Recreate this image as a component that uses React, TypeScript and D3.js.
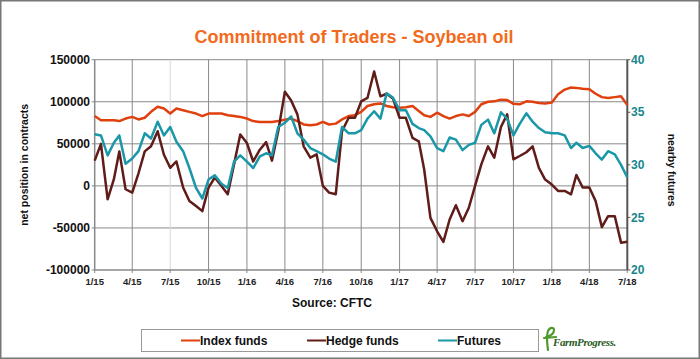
import * as d3 from "d3";

// semi-monthly observations, Jan 2015 .. Jul 2018
const indexFunds = [
  83000, 78000, 78000, 78000, 77000, 80000, 82000, 79000, 81000, 88000,
  94000, 92000, 86000, 92000, 90000, 88000, 86000, 83000, 86000, 86000,
  86000, 84000, 83000, 82000, 80000, 77000, 76000, 76000, 76000, 77000,
  78500, 80000, 77000, 73000, 72000, 73000, 76000, 73000, 74000, 79000,
  83000, 84000, 88000, 95000, 97000, 98000, 95000, 93500, 93000, 93500,
  95000, 89000, 84000, 82000, 87000, 83000, 80000, 83000, 85000, 83000,
  88000, 97000, 100000, 100500, 102500, 102000, 97500, 97000, 100500, 100000,
  98500, 98000, 99000, 109000, 114500, 117000, 116500, 115500, 115000, 109500,
  105500, 104500, 105500, 106500, 96000,
];

const hedgeFunds = [
  30000, 50000, -16000, 8000, 41000, -4000, -8000, 15000, 41000, 47000,
  65000, 37000, 21500, 29000, -2000, -18000, -24000, -30000, -2000, 10000,
  0, -10000, 25500, 61000, 51000, 29000, 43000, 52000, 30000, 65000,
  112000, 101500, 85000, 47000, 33500, 37500, 0, -8000, -10000, 65000,
  81000, 81000, 100500, 104500, 136000, 106500, 109500, 104000, 81000, 81000,
  57000, 53000, 19500, -38000, -54000, -66500, -40000, -23000, -42000, -26000,
  0, 25500, 47000, 33500, 70000, 85000, 31500, 35500, 40000, 47000,
  21500, 7500, 1500, -6000, -6000, -10000, 13000, -2000, -2000, -18000,
  -49000, -36000, -36000, -67500, -66500,
];

const futures = [
  32.9, 32.8, 30.9, 32.1, 32.8, 30.1, 30.6, 31.3, 33.0, 32.5,
  34.1, 32.8, 33.6, 32.2, 31.3, 29.7, 27.8, 26.8, 28.6, 29.0,
  28.2, 27.8, 30.3, 30.9, 30.3, 29.7, 30.8, 31.1, 30.9, 33.6,
  34.0, 34.6, 33.0, 32.4, 31.6, 31.3, 31.0, 30.6, 30.3, 33.6,
  33.0, 33.0, 33.3, 34.4, 35.1, 34.4, 36.8, 36.4, 35.2, 35.2,
  33.9, 33.5, 33.3, 32.7, 31.6, 31.3, 32.6, 32.4, 31.4, 31.9,
  32.1, 33.8, 34.3, 33.0, 35.0, 34.4, 32.8, 33.9, 34.9, 34.1,
  33.5, 33.1, 33.0, 33.0, 32.8, 31.6, 32.1, 31.6, 31.8, 31.1,
  30.5, 31.3, 31.0, 30.0, 28.8,
];

const xTickLabels = [
  "1/15", "4/15", "7/15", "10/15", "1/16", "4/16", "7/16", "10/16",
  "1/17", "4/17", "7/17", "10/17", "1/18", "4/18", "7/18",
];
const leftTicks = [-100000, -50000, 0, 50000, 100000, 150000];
const rightTicks = [20, 25, 30, 35, 40];

const seriesNames = ["Index funds", "Hedge funds", "Futures"];
const colors = ["#e0400e", "#5f1c19", "#1a97a8"];

const W = 700;
const H = 359;
const FONT = "Liberation Sans, Arial, sans-serif";

export default function App() {
  const start = new Date(2015, 0, 1);
  const end = new Date(2018, 6, 1);
  const dates: Date[] = [];
  d3.timeMonth.range(start, end).forEach((m) => {
    dates.push(m);
    dates.push(d3.timeDay.offset(m, 15));
  });
  dates.push(end);

  const x = d3.scaleTime().domain([start, end]).range([94.7, 627.3]);
  const yL = d3.scaleLinear().domain([-100000, 150000]).range([270, 59.7]);
  const yR = d3.scaleLinear().domain([20, 40]).range([270, 59.7]);
  const quarters = d3.timeMonth.every(3)!.range(start, d3.timeDay.offset(end, 1));

  const lineL = d3
    .line<number>()
    .x((_, i) => x(dates[i]))
    .y((d) => yL(d));
  const lineR = d3
    .line<number>()
    .x((_, i) => x(dates[i]))
    .y((d) => yR(d));

  const paths = [lineL(indexFunds), lineL(hedgeFunds), lineR(futures)];
  const legendX = [181, 307, 438];

  return (
    <svg
      width={W}
      height={H}
      style={{ position: "absolute", left: 0, top: 0, background: "#fff" }}
      fontFamily={FONT}
    >
      <rect x={0.75} y={0.75} width={W - 1.5} height={H - 1.5} fill="#fff" stroke="#777" strokeWidth={1.5} />

      <text x={354} y={43} textAnchor="middle" fontSize={18} fontWeight="bold" fill="#f26a1c">
        Commitment of Traders - Soybean oil
      </text>

      {/* grid */}
      {leftTicks.slice(1).map((t) => (
        <line key={t} x1={x(start)} x2={x(end)} y1={yL(t)} y2={yL(t)} stroke="#8a8a8a" strokeWidth={1} />
      ))}
      {quarters.slice(1, -1).map((q, i) => (
        <line
          key={i}
          x1={x(q)}
          x2={x(q)}
          y1={yL(150000)}
          y2={yL(-100000)}
          stroke={i === 1 ? "#d8d8d8" : "#8a8a8a"}
          strokeWidth={1}
        />
      ))}

      {/* axes */}
      <line x1={x(start)} x2={x(start)} y1={yL(150000)} y2={yL(-100000)} stroke="#888" strokeWidth={1.5} />
      <line x1={x(start)} x2={x(end)} y1={yL(-100000)} y2={yL(-100000)} stroke="#888" strokeWidth={1.5} />
      <line x1={x(end)} x2={x(end)} y1={yL(150000)} y2={yL(-100000)} stroke="#555" strokeWidth={2} />

      {leftTicks.map((t) => (
        <g key={t}>
          <line x1={x(start) - 3} x2={x(start)} y1={yL(t)} y2={yL(t)} stroke="#888" />
          <text x={90} y={yL(t)} dy="0.35em" textAnchor="end" fontSize={12} fontWeight="bold" fill="#111">
            {t}
          </text>
        </g>
      ))}
      {rightTicks.map((t) => (
        <g key={t}>
          <line x1={x(end)} x2={x(end) + 3} y1={yR(t)} y2={yR(t)} stroke="#555" />
          <text x={631} y={yR(t)} dy="0.35em" fontSize={12} fontWeight="bold" fill="#17868c">
            {t}
          </text>
        </g>
      ))}
      {quarters.map((q, i) => (
        <g key={i}>
          <line x1={x(q)} x2={x(q)} y1={yL(-100000)} y2={yL(-100000) + 3} stroke="#888" />
          <text x={x(q)} y={285} textAnchor="middle" fontSize={9.5} fontWeight="bold" fill="#222">
            {xTickLabels[i]}
          </text>
        </g>
      ))}

      <text
        transform={`translate(28,${yL(25000)}) rotate(-90)`}
        textAnchor="middle"
        fontSize={10.5}
        fontWeight="bold"
        fill="#111"
      >
        net position in contracts
      </text>
      <text
        transform={`translate(668,${yR(29.5)}) rotate(90)`}
        textAnchor="middle"
        fontSize={10.5}
        fontWeight="bold"
        fill="#111"
      >
        nearby futures
      </text>

      {/* series */}
      {paths.map((p, i) => (
        <path key={i} d={p ?? ""} fill="none" stroke={colors[i]} strokeWidth={2.5} strokeLinejoin="round" />
      ))}

      <text x={332} y={307} textAnchor="middle" fontSize={12} fontWeight="bold" fill="#111">
        Source: CFTC
      </text>

      {/* legend */}
      <rect x={141.5} y={329.5} width={397} height={22} fill="#fff" stroke="#999" strokeWidth={1} />
      {seriesNames.map((s, i) => (
        <g key={s}>
          <line x1={legendX[i]} x2={legendX[i] + 19} y1={340.5} y2={340.5} stroke={colors[i]} strokeWidth={2} />
          <text x={legendX[i] + 19} y={340.5} dy="0.35em" fontSize={12} fontWeight="bold" fill="#111">
            {s}
          </text>
        </g>
      ))}

      {/* logo */}
      <g>
        <path
          d="M548 350 C547 343 546 337 548 331 C550 327 554 327 554 330 C554 334 550 336 546 337 M544 338 L556 337"
          fill="none"
          stroke="#4f9a2c"
          strokeWidth={2.2}
          strokeLinecap="round"
        />
        <text
          x={553}
          y={346}
          fontSize={11}
          fontWeight="bold"
          fontStyle="italic"
          fontFamily="Liberation Serif, serif"
          fill="#2a5a22"
          letterSpacing={-0.4}
        >
          FarmProgress.
        </text>
      </g>
    </svg>
  );
}
